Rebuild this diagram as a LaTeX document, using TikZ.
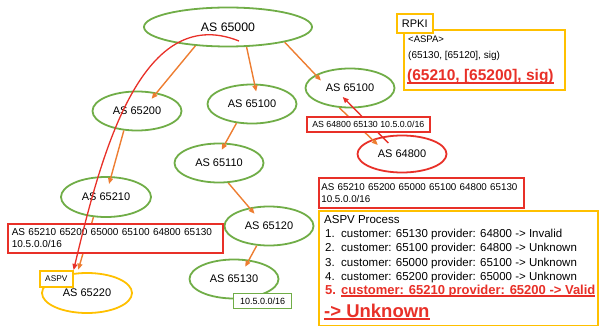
\documentclass[tikz,border=0pt]{standalone}
\usepackage{fontspec}
\setmainfont{Liberation Sans}
\usepackage{tikz}
\usetikzlibrary{shapes.geometric, arrows.meta, positioning, calc}
\definecolor{cGreen}{RGB}{112,173,71}
\definecolor{cOrange}{RGB}{237,125,49}
\definecolor{cGold}{RGB}{255,192,0}
\definecolor{cRed}{RGB}{232,48,40}
\newsavebox{\ulbox}
\newcommand{\redul}[2][1.2pt]{\sbox{\ulbox}{#2}\rlap{\rule[-2.6pt]{\wd\ulbox}{#1}}\usebox{\ulbox}}
\tikzset{
	asnode/.style   ={ellipse, draw=cGreen, line width=1.8pt, minimum width=89pt, minimum height=39pt, inner sep=0pt, font=\fontsize{11}{13}\selectfont},
	badnode/.style  ={asnode, draw=cRed},
	checknode/.style={asnode, draw=cGold},
	pathbox/.style  ={rectangle, draw=cRed, line width=1.6pt, fill=white, align=left, inner xsep=4pt, inner ysep=2pt, font=\fontsize{10}{12}\selectfont},
	infobox/.style  ={rectangle, draw=cGold, line width=1.6pt, fill=white, inner sep=0pt},
	txt/.style      ={anchor=base west, inner sep=0pt},
	% connectors
	route/.style    ={-{Triangle[length=6pt, width=5pt]}, cOrange, line width=1.4pt, shorten >=-8pt},
	sigflow/.style  ={-{Triangle[length=6pt, width=5pt]}, cRed, line width=1.3pt},
}

\begin{document}
\begin{tikzpicture}[x=1pt, y=-1pt, font=\fontsize{11}{13}\selectfont]
	\useasboundingbox (0,0) rectangle (599,326);
	% AS topology
	\node[asnode, minimum width=168pt, font=\fontsize{12.3}{14}\selectfont] (n65000) at (228,27) {AS 65000};
	\node[asnode] (n65200) at (137,111) {AS 65200};
	\node[asnode] (n65100) at (252,104) {AS 65100};
	\node[asnode] (n65110) at (219,163) {AS 65110};
	\node[asnode] (n65100b) at (350,88) {AS 65100};
	\node[badnode, minimum height=37pt] (n64800) at (402,154) {AS 64800};
	\node[asnode, minimum width=90pt, minimum height=40pt] (n65210) at (106,197) {AS 65210};
	\node[asnode] (n65120) at (269,226) {AS 65120};
	\node[asnode] (n65130) at (234,279) {AS 65130};
	\node[checknode, minimum width=90pt, minimum height=40pt] (n65220) at (87,293) {AS 65220};
	% route propagation
	\draw[route] (n65000.210) -- (n65200.43);
	\draw[route] (n65000.313) -- (n65100.83);
	\draw[route] (n65000.345) -- (n65100b.159);
	\draw[route] (n65100.231) -- (n65110.72);
	\draw[route] (n65200.236) -- (n65210.76);
	\draw[route] (n65110.295) -- (n65120.137);
	\draw[route] (n65120.238) -- (n65130.52);
	\draw[route] (n65100b.242) -- (n64800.154);
	\draw[route, shorten >=3pt] (n65210.238) -- (n65220.115);
	% leak
	\draw[sigflow, shorten <=-9pt, shorten >=-16pt] (n64800.139) -- (n65100b.281);
	% labels
	\node[pathbox, anchor=north west, minimum width=123pt, minimum height=15pt, inner sep=0pt, align=center, font=\fontsize{8.8}{10}\selectfont] (pathS) at (306,116) {AS 64800 65130 10.5.0.0/16};
	\node[pathbox, anchor=north west, text width=207pt, minimum height=29pt] (pathL) at (7,223) {AS 65210 65200 65000 65100 64800 65130\\10.5.0.0/16};
	\node[pathbox, anchor=north west, text width=200pt, inner xsep=2.5pt, minimum height=30pt, font=\fontsize{9.8}{12}\selectfont] (pathR) at (318,177) {AS 65210 65200 65000 65100 64800 65130\\10.5.0.0/16};
	\node[rectangle, draw=cGreen, line width=1.3pt, fill=white, minimum width=58pt, minimum height=15pt, inner sep=0pt, font=\fontsize{9}{10}\selectfont, anchor=north west] (prefix) at (233,293) {10.5.0.0/16};
	\node[infobox, minimum width=33pt, minimum height=16pt, font=\fontsize{8.3}{10}\selectfont, anchor=north west] (aspv) at (39,270) {ASPV};
	% check path
	\coordinate (sigsrc) at (239,41);
	\draw[sigflow] (sigsrc) .. controls +(-100,-40) and +(26,-108) .. (aspv.north east);
	% RPKI
	\node[infobox, minimum width=161pt, minimum height=60pt, anchor=north west] (aspa) at (403,29) {};
	\node[infobox, minimum width=36pt, minimum height=19pt, anchor=north west] (rpki) at (396,13) {RPKI};
	\node[txt, font=\fontsize{9.5}{11}\selectfont] (aspaT) at (408,43) {<ASPA>};
	\node[txt, font=\fontsize{10}{12}\selectfont] (aspa1) at (408,59) {(65130, [65120], sig)};
	\node[txt, font=\fontsize{15.5}{18}\selectfont\bfseries, text=cRed] (aspa2) at (407,81) {\redul{(65210, [65200], sig)}};
	% ASPV process
	\node[infobox, minimum width=279pt, minimum height=115pt, anchor=north west] (proc) at (318,210) {};
	\node[txt, font=\fontsize{11.5}{13}\selectfont] (procT) at (324,223) {ASPV Process};
	\node[txt, font=\fontsize{11.5}{13}\selectfont] (proc1) at (325,237.5) {\makebox[16pt][l]{1.}customer: 65130 provider: 64800 -> Invalid};
	\node[txt, font=\fontsize{11.5}{13}\selectfont] (proc2) at (325,251.5) {\makebox[16pt][l]{2.}customer: 65100 provider: 64800 -> Unknown};
	\node[txt, font=\fontsize{11.5}{13}\selectfont] (proc3) at (325,266) {\makebox[16pt][l]{3.}customer: 65000 provider: 65100 -> Unknown};
	\node[txt, font=\fontsize{11.5}{13}\selectfont] (proc4) at (325,280) {\makebox[16pt][l]{4.}customer: 65200 provider: 65000 -> Unknown};
	\node[txt, font=\fontsize{13}{15}\selectfont\bfseries, text=cRed] (proc5) at (325,294) {\makebox[16pt][l]{5.}\redul{customer: 65210 provider: 65200 -> Valid}};
	\node[txt, font=\fontsize{18.5}{22}\selectfont\bfseries, text=cRed] (procR) at (324,317) {\redul[1.8pt]{-> Unknown}};
\end{tikzpicture}
\end{document}
